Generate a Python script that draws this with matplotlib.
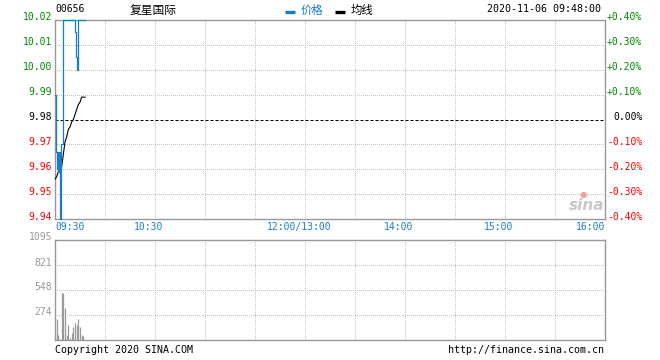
import matplotlib
matplotlib.use('Agg')
import matplotlib.pyplot as plt
import matplotlib.transforms as mtrans
from matplotlib.lines import Line2D

# ---------------- data ----------------
code = "00656"
name = "复星国际"
timestamp = "2020-11-06 09:48:00"
legend_labels = ["价格", "均线"]
prev_close = 9.98
price_ticks = [10.02, 10.01, 10.00, 9.99, 9.98, 9.97, 9.96, 9.95, 9.94]
time_labels = ["09:30", "10:30", "12:00/13:00", "14:00", "15:00", "16:00"]
time_label_min = [0, 60, 150, 210, 270, 330]
vol_ticks = [274, 548, 821, 1095]
vol_max = 1095

# price trace (minutes after 09:30, price)
price_t = [0, 0.4, 0.4, 1.2, 1.2, 1.5, 1.5, 1.8, 1.8, 2.1, 2.1, 3.0, 3.0, 3.1, 3.1, 3.6, 3.6,
           4.8, 4.8, 12.0, 12.0, 12.8, 12.8, 13.4, 13.4, 14.0, 14.0, 18.0]
price_v = [9.99, 9.99, 9.967, 9.967, 9.96, 9.96, 9.967, 9.967, 9.959, 9.959, 9.967, 9.967, 9.95,
           9.95, 9.94, 9.94, 9.97,
           9.97, 10.02, 10.02, 10.015, 10.015, 10.005, 10.005, 10.00, 10.00, 10.02, 10.02]

avg_t = list(range(19))
avg_v = [9.956, 9.957, 9.959, 9.960, 9.961, 9.966, 9.971, 9.973, 9.976, 9.977,
         9.979, 9.980, 9.982, 9.984, 9.986, 9.987, 9.989, 9.989, 9.989]

vol_t = list(range(1, 18))
vol_v = [230, 55, 10, 515, 515, 350, 60, 164, 22, 78, 146, 186, 164, 226, 146, 52, 44]

# ---------------- style ----------------
W, H = 660, 360
DPI = 100
MONO = ['DejaVu Sans Mono']
CJK = ['Noto Sans CJK SC', 'DejaVu Sans']
GREEN = '#008800'
RED = '#ff0000'
BLUE = '#1a7dc4'
GRAYTXT = '#999999'
BORDER = '#999999'
GRID = '#c4c4c4'
FS = 7.0

fig = plt.figure(figsize=(W / DPI, H / DPI), dpi=DPI)
fig.patch.set_facecolor('white')

def px_axes(l, t, r, b):
    return fig.add_axes([l / W, 1 - b / H, (r - l) / W, (b - t) / H])

ax = px_axes(55, 20, 605, 219)
axv = px_axes(55, 240, 605, 340)

for a in (ax, axv):
    a.set_xlim(0, 330)
    for s in a.spines.values():
        s.set_color(BORDER)
        s.set_linewidth(1.0)
    a.set_xticks([])
    a.set_yticks([])
    for m in range(30, 330, 30):
        a.axvline(m, color=GRID, lw=0.72, ls=(0, (1, 2)), zorder=1, antialiased=False)

# price panel
ax.set_ylim(min(price_ticks), max(price_ticks))
for p in price_ticks[1:-1]:
    if abs(p - prev_close) < 1e-9:
        ax.axhline(p, color='black', lw=0.72, ls=(0, (3, 2)), zorder=2)
    else:
        ax.axhline(p, color=GRID, lw=0.72, ls=(0, (1, 2)), zorder=1, antialiased=False)

ax.plot(price_t, price_v, color=BLUE, lw=0.9, zorder=6, clip_on=False)
ax.plot(avg_t, avg_v, color='black', lw=0.8, zorder=5)

for p in price_ticks:
    if p > prev_close + 1e-9:
        c = GREEN
    elif p < prev_close - 1e-9:
        c = RED
    else:
        c = 'black'
    tl = mtrans.blended_transform_factory(ax.transAxes, ax.transData)
    tl = tl + mtrans.ScaledTranslation(-3 / DPI, 2.5 / DPI, fig.dpi_scale_trans)
    ax.text(0, p, f"{p:.2f}", transform=tl, ha='right', va='center',
            color=c, fontsize=FS, family=MONO)
    pct = (p - prev_close) / prev_close * 100
    s = f"{pct:+.2f}%" if abs(pct) > 1e-9 else "0.00%"
    tr = mtrans.blended_transform_factory(ax.transAxes, ax.transData)
    tr = tr + mtrans.ScaledTranslation(2 / DPI if abs(pct) > 1e-9 else 8 / DPI, 2.5 / DPI, fig.dpi_scale_trans)
    ax.text(1, p, s, transform=tr, ha='left', va='center',
            color=c, fontsize=FS, family=MONO)

# time labels
tt = mtrans.blended_transform_factory(ax.transData, ax.transAxes)
for m, lab in zip(time_label_min, time_labels):
    if m == 0:
        ha, dx = 'left', 0
    elif m == 330:
        ha, dx = 'right', 0
    else:
        ha, dx = 'center', -6
    ax.text(m, 0, lab, transform=tt + mtrans.ScaledTranslation(dx / DPI, -8.5 / DPI, fig.dpi_scale_trans),
            ha=ha, va='center', color=BLUE, fontsize=FS, family=MONO)

# volume panel
axv.set_ylim(0, vol_max)
for v in vol_ticks[:-1]:
    axv.axhline(v, color=GRID, lw=0.72, ls=(0, (1, 2)), zorder=1, antialiased=False)
axv.vlines(vol_t, 0, vol_v, color='#999999', lw=0.9, zorder=3)
for v in vol_ticks:
    tl = mtrans.blended_transform_factory(axv.transAxes, axv.transData)
    tl = tl + mtrans.ScaledTranslation(-3 / DPI, 2.5 / DPI, fig.dpi_scale_trans)
    axv.text(0, v, f"{v}", transform=tl, ha='right', va='center',
             color=GRAYTXT, fontsize=FS, family=MONO)

# header
def ftext(x, y, s, **kw):
    fig.text(x / W, 1 - y / H, s, **kw)

ftext(55, 9, code, ha='left', va='center', fontsize=FS, family=MONO, color='black')
ftext(130, 10, name, ha='left', va='center', fontsize=8.5, family=CJK, color='black')
ftext(601, 9, timestamp, ha='right', va='center', fontsize=7.2, family=MONO, color='black')

fig.add_artist(Line2D([285 / W, 295 / W], [1 - 11.5 / H] * 2, color=BLUE, lw=2.4, solid_capstyle='butt'))
ftext(301, 10, legend_labels[0], ha='left', va='center', fontsize=8.2, family=CJK, color=BLUE)
fig.add_artist(Line2D([335 / W, 345 / W], [1 - 11.5 / H] * 2, color='black', lw=2.4, solid_capstyle='butt'))
ftext(351, 10, legend_labels[1], ha='left', va='center', fontsize=8.2, family=CJK, color='black')

# footer
ftext(55, 350, "Copyright 2020 SINA.COM", ha='left', va='center', fontsize=7.2, family=MONO, color='black')
ftext(604, 350, "http://finance.sina.com.cn", ha='right', va='center', fontsize=7.2, family=MONO, color='black')

# watermark
ftext(587, 206, "sina", ha='center', va='center', fontsize=11, family=['DejaVu Sans'],
      style='italic', weight='bold', color='#c8c8c8')
ftext(583, 194, "●", ha='center', va='center', fontsize=6, family=['DejaVu Sans'], color='#f0a0a0')

fig.savefig('out.png', dpi=DPI, facecolor='white')
